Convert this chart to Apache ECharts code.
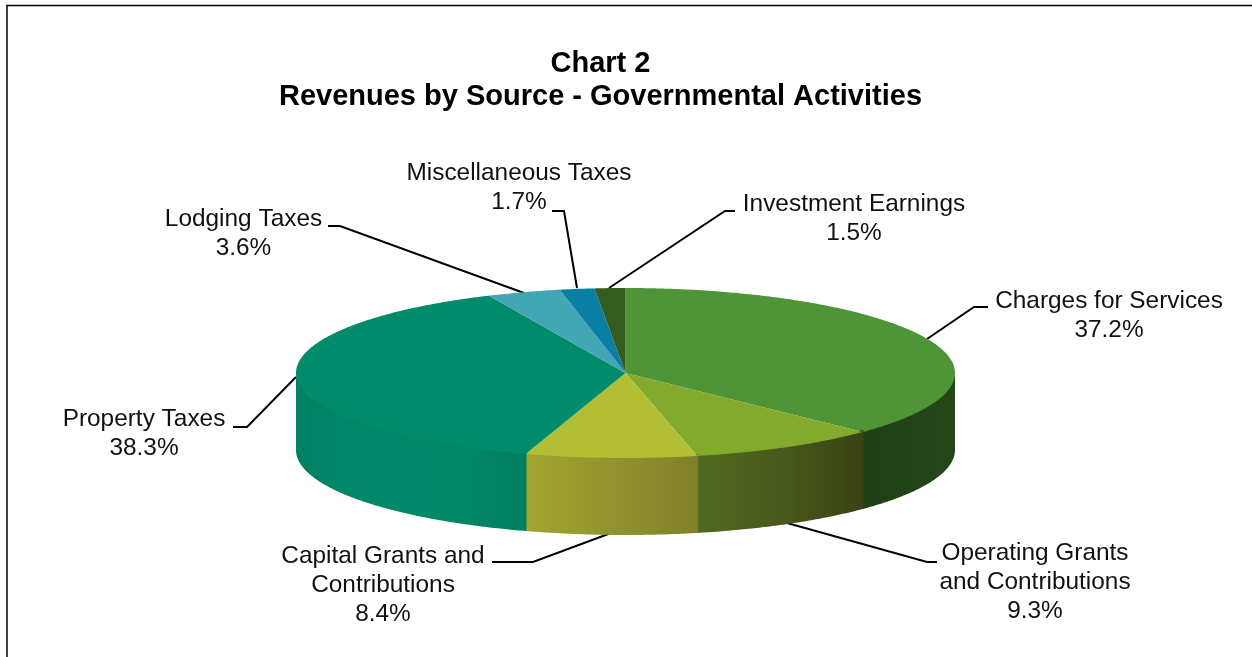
<!DOCTYPE html>
<html><head><meta charset="utf-8">
<style>html,body{margin:0;padding:0;background:#fff}#c{width:1252px;height:657px}</style>
<script src="https://cdn.jsdelivr.net/npm/echarts@6/dist/echarts.min.js"></script>
</head><body><div id="c"></div>
<script>
var categories = ['Charges for Services','Operating Grants and Contributions','Capital Grants and Contributions','Property Taxes','Lodging Taxes','Miscellaneous Taxes','Investment Earnings'];
var values = [37.2, 9.3, 8.4, 38.3, 3.6, 1.7, 1.5];
var labelLines = [['Charges for Services'],['Operating Grants','and Contributions'],['Capital Grants and','Contributions'],['Property Taxes'],['Lodging Taxes'],['Miscellaneous Taxes'],['Investment Earnings']];
var topColors = ['#4F9437','#82AB2E','#B2BE33','#008C6A','#43A6B5','#0A7FA3','#345C1E'];
var wallColors = [
  [[0,'#1E4014'],[1,'#24471A']],
  [[0,'#52681F'],[0.5,'#475A1B'],[1,'#3A4214']],
  [[0,'#A3A62E'],[1,'#80802A']],
  [[0,'#007F62'],[0.25,'#008768'],[0.6,'#008A69'],[1,'#007D5F']],
  null,null,null
];
// layout of the disc and the hand-placed callouts
var disc = {cx:625.5, cy:373, rx:329.5, ry:85, depth:77};
var labelAt = [[1109,301],[1035,553],[383,556],[144,419],[243.5,219],[519,173],[854,204]];
var leaders = [
  [[927,339],[974,307],[988,307]],
  [[787,523],[927,562],[937,562]],
  [[611,533],[533,562],[492,562]],
  [[296,377],[247,427],[233,427]],
  [[524,293],[340,226],[328,226]],
  [[577,288],[564,211],[552,211]],
  [[609,288],[725,211],[735,211]]
];
var LH = 29, FS = 24.4;
var total = values.reduce(function(a,b){return a+b;},0);
function pt(deg,dy){var r=deg*Math.PI/180;return [disc.cx+disc.rx*Math.sin(r),disc.cy-disc.ry*Math.cos(r)+(dy||0)];}
function arc(a,b,dy){var n=Math.max(2,Math.ceil(Math.abs(b-a)*2)),o=[];for(var i=0;i<=n;i++)o.push(pt(a+(b-a)*i/n,dy));return o;}

function renderItem(params, api){
  var i = params.dataIndex, start = 0;
  for (var k=0;k<i;k++) start += values[k];
  var a = start/total*360, b = (start+api.value(0))/total*360;
  var ch = [];
  var wa = Math.max(a,90), wb = Math.min(b,270);
  if (wb > wa && wallColors[i]) {
    var w0 = wa === a ? wa - 0.15 : wa;   // tiny overlap hides the seam between neighbouring walls
    var wall = arc(w0,wb,-2).concat(arc(wb,w0,disc.depth));
    ch.push({type:'polygon',shape:{points:wall},style:{
      fill:{type:'linear',x:0,y:0,x2:1,y2:0,colorStops:wallColors[i].map(function(s){return {offset:s[0],color:s[1]};})}
    }});
  }
  ch.push({type:'polygon',shape:{points:[[disc.cx,disc.cy]].concat(arc(a,b,0))},style:{fill:topColors[i]}});
  return {type:'group',children:ch};
}
function renderCallout(params, api){
  var i = params.dataIndex, p = labelAt[i];
  var txt = labelLines[i].concat([api.value(0).toFixed(1)+'%']).join('\n');
  return {type:'group',children:[
    {type:'polyline',shape:{points:leaders[i]},style:{stroke:'#000',lineWidth:2,fill:null}},
    {type:'text',style:{text:txt,x:p[0],y:p[1]-LH/2,align:'center',verticalAlign:'top',
      fontFamily:'Liberation Sans',fontSize:FS,lineHeight:LH,fill:'#111'}}
  ]};
}
var chart = echarts.init(document.getElementById('c'),null,{renderer:'canvas'});
chart.setOption({
  backgroundColor:'#fff',animation:false,
  title:{text:'Chart 2\nRevenues by Source - Governmental Activities',left:595.5,top:42,textAlign:'center',
    textStyle:{fontFamily:'Liberation Sans',fontWeight:'bold',fontSize:29,lineHeight:33,color:'#000'}},
  graphic:[{type:'rect',shape:{x:7,y:5.5,width:1400,height:800},style:{fill:null,stroke:'#000',lineWidth:1.5},silent:true}],
  series:[
    {type:'custom',coordinateSystem:'none',renderItem:renderItem,data:values.map(function(v,i){return {name:categories[i],value:[v]};}),z:2,silent:true},
    {type:'custom',coordinateSystem:'none',renderItem:renderCallout,data:values.map(function(v,i){return {name:categories[i],value:[v]};}),z:1,silent:true}
  ]
});
</script></body></html>
